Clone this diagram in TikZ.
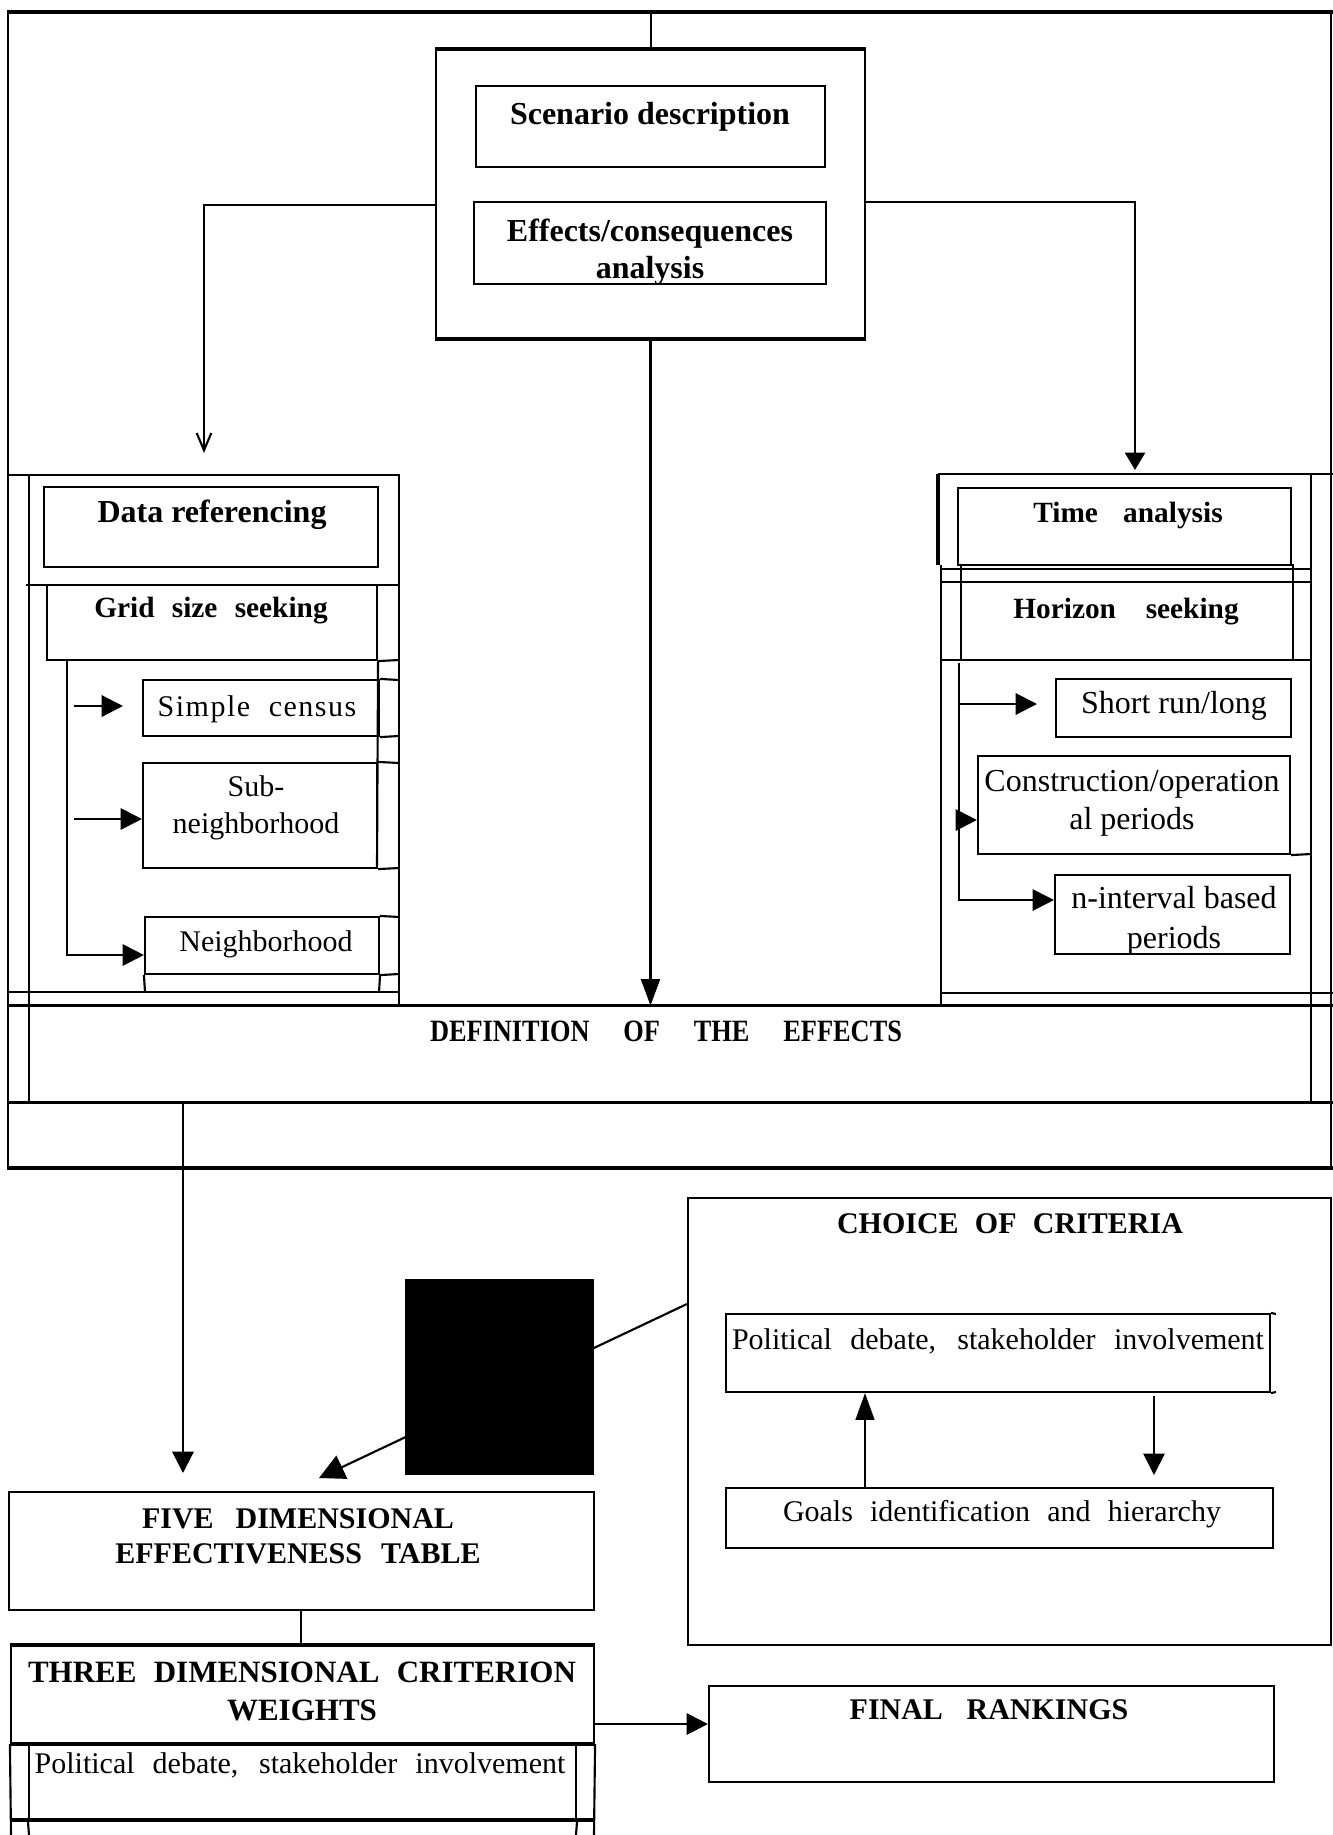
\documentclass[tikz,border=0pt]{standalone}
\usepackage{fontspec}
\setmainfont{Liberation Serif}
\newfontfamily\condfont{Liberation Serif}[FakeStretch=0.85]
\newfontfamily\spacedfont{Liberation Serif}[LetterSpace=5]
\usetikzlibrary{arrows.meta,fit}

\tikzset{
  lwa/.style={line width=2.3pt},
  lwb/.style={line width=1.6pt},
  lwc/.style={line width=1.1pt},
  boxline/.style={draw, lwb, inner sep=0pt},
  hb/.style={font={\fontsize{24}{27.75}\selectfont\bfseries}, inner sep=0pt, align=center, anchor=base},
  hs/.style={font={\fontsize{22}{25}\selectfont\bfseries}, inner sep=0pt, anchor=base},
  rg/.style={font={\fontsize{22.5}{27.75}\selectfont}, inner sep=0pt, align=center, anchor=base},
  rgl/.style={font={\fontsize{24}{28.5}\selectfont}, inner sep=0pt, align=center, anchor=base},
  caps/.style={font={\fontsize{22.5}{26.25}\selectfont\bfseries}, inner sep=0pt, align=center, anchor=base},
  arr/.style={-{Triangle[length=16pt,width=16pt]}},
  arrs/.style={-{Triangle[length=13pt,width=15pt]}},
}

\begin{document}
\begin{tikzpicture}[x=0.75pt,y=-0.75pt]
\fill[white] (0,0) rectangle (1333,1835);
\useasboundingbox (0,0) rectangle (1333,1835);

% ---------- outer frame of the upper part ----------
\draw[lwa] (7,12) -- (1333,12);
\draw[lwb] (8,12) -- (8,1170);
\draw[lwb] (1331,12) -- (1331,1170);

% ---------- central block ----------
\node[boxline, fit={(436,50) (865,338)}] (central) {};
\draw[lwa] (central.north west) -- (central.north east);
\draw[lwa] (central.south west) -- (central.south east);
\coordinate (topc) at (651,12);
\draw[lwc] (topc) -- (topc |- central.north);

\node[boxline, fit={(476,86) (825,167)}] (scen) {};
\node[hb] (scent) at (650,124) {Scenario description};
\node[boxline, fit={(474,202) (826,284)}] (eff) {};
\node[hb] (efft) at (650,278) {Effects/consequences\\analysis};

% connectors out of the central block
\coordinate (ltip) at (204,453);
\coordinate (rtip) at (1135,470);
\draw[lwb, -{Straight Barb[length=13pt,width=11pt]}] (central.west |- 0,205) -| (ltip);
\draw[lwb, arrs] (central.east |- 0,202) -| (rtip);

% ---------- DEFINITION band ----------
\node[inner sep=0pt, fit={(8,1006) (1333,1102)}] (def) {};
\draw[lwa] (def.north west) -- (def.north east);
\draw[lwa] (def.south west) -- (def.south east);
\node[font={\fontsize{23.25}{27}\selectfont\condfont\bfseries}, inner sep=0pt, anchor=base] (deft) at (666,1041) {\makebox[354pt][s]{DEFINITION OF THE EFFECTS}};
\draw[lwa] (8,1168) -- (1333,1168);
\draw[lwa, -{Triangle[length=20pt,width=14pt]}] (central.south) -- (central.south |- def.north);

% ---------- left panel ----------
\draw[lwb] (8,475) -- (399,475) -- (399,1006);
\draw[lwb] (29,475) -- (29,1102);
\node[boxline, fit={(44,487) (378,567)}] (dataref) {};
\node[hb] (datareft) at (212,522) {Data referencing};
\draw[lwb] (26,585) -- (399,585);
\node[boxline, fit={(47,585) (377,660)}] (grid) {};
\draw[lwb] (grid.south east) -- (399,660);
\draw[lwb] (grid.south east) -- (377,867);
\node[hs] (gridt) at (211,617) {\makebox[175pt][s]{Grid size seeking}};

\node[boxline, fit={(143,680) (379,736)}] (simple) {};
\draw[lwb] (simple.north east) -- (399,680);
\draw[lwb] (simple.south east) -- (399,736);
\node[font={\fontsize{22.5}{27.75}\selectfont\spacedfont}, inner sep=0pt, anchor=base] (simplet) at (257,716) {\makebox[149pt][s]{Simple census}};

\node[boxline, fit={(143,763) (377,868)}] (sub) {};
\draw[lwb] (sub.north east) -- (399,763);
\draw[lwb] (sub.south east) -- (399,868);
\node[rg] (subt) at (256,833) {Sub-\\neighborhood};

\node[boxline, fit={(145,917) (379,974)}] (nbh) {};
\draw[lwb] (nbh.north east) -- (399,917);
\draw[lwb] (nbh.south east) -- (399,974);
\draw[lwb] (nbh.south west) -- (145,992);
\draw[lwb] (nbh.south east) -- (379,992);
\node[rg] (nbht) at (266,951) {Neighborhood};
\draw[lwb] (8,992) -- (399,992);

\coordinate (gb) at (67,660);
\coordinate (sa) at (74,706);
\coordinate (sb) at (123,706);
\coordinate (sc) at (74,819);
\draw[lwb, arr] (gb) |- (nbh.west |- 0,955);
\draw[lwb, arr] (sa) -- (sb);
\draw[lwb, arr] (sc) -- (sub.west |- sc);

% ---------- right panel ----------
\draw[lwb] (938,474) -- (1333,474);
\draw[lwa] (938,474) -- (938,565);
\draw[lwb] (941,565) -- (941,1006);
\draw[lwb] (1311,474) -- (1311,1102);
\node[boxline, fit={(958,488) (1291,565)}] (time) {};
\node[hs] (timet) at (1128,522) {\makebox[142pt][s]{Time analysis}};
\draw[lwb] (941,569) -- (1311,569);
\draw[lwb] (941,582) -- (1311,582);
\node[boxline, fit={(961,565) (1293,660)}] (hor) {};
\draw[lwb] (941,660) -- (1311,660);
\node[hs] (hort) at (1126,618) {\makebox[169pt][s]{Horizon seeking}};

\node[boxline, fit={(1056,679) (1291,737)}] (short) {};
\node[rgl] (shortt) at (1174,713) {Short run/long};
\node[boxline, fit={(978,756) (1290,854)}] (cons) {};
\draw[lwb] (cons.south east) -- (1311,854);
\node[rgl] (const) at (1132,829) {Construction/operation\\al periods};
\node[boxline, fit={(1055,875) (1290,954)}] (nint) {};
\node[font={\fontsize{24}{29.5}\selectfont}, inner sep=0pt, align=center, anchor=base] (nintt) at (1174,948) {n-interval based\\periods};
\draw[lwb] (941,993) -- (1333,993);

\coordinate (hbr) at (959,663);
\coordinate (ra) at (959,704);
\coordinate (rb) at (1037,704);
\coordinate (rc) at (959,820);
\draw[lwb, arr] (hbr) |- (nint.west |- 0,900);
\draw[lwb, arr] (ra) -- (rb);
\draw[lwb, arr] (rc) -- (cons.west |- rc);

% ---------- lower part ----------
\node[boxline, fit={(688,1198) (1331,1645)}] (choice) {};
\node[caps] (choicet) at (1010,1233) {\makebox[259.5pt][s]{CHOICE OF CRITERIA}};
\node[boxline, fit={(726,1314) (1270,1392)}] (pol1) {};
\draw[lwb] (pol1.north east) -- (1276,1314);
\draw[lwb] (pol1.south east) -- (1276,1392);
\node[rg] (pol1t) at (998,1349) {\makebox[399pt][s]{Political debate, stakeholder involvement}};
\node[boxline, fit={(726,1488) (1273,1548)}] (goals) {};
\node[rg] (goalst) at (1002,1521) {\makebox[328.5pt][s]{Goals identification and hierarchy}};
\draw[lwb, -{Triangle[length=20pt,width=14pt]}] (865,0 |- goals.north) -- (865,0 |- pol1.south);
\coordinate (da) at (1154,1396);
\coordinate (db) at (1154,1475);
\draw[lwc, arr] (da) -- (db);

\node[boxline, fit={(9,1492) (594,1610)}] (five) {};
\node[caps] (fivet) at (298,1563) {\makebox[234pt][s]{FIVE DIMENSIONAL}\\\makebox[274pt][s]{EFFECTIVENESS TABLE}};

\coordinate (dtip) at (183,1473);
\draw[lwb, arr] (183,0 |- def.south) -- (dtip);

\coordinate (ctip) at (319,1478);
\draw[lwb, -{Triangle[length=19pt,width=19pt]}] (choice.west |- 0,1304) -- (ctip);
\node[fill=black, inner sep=0pt, fit={(405,1279) (594,1475)}] (blk) {};

\node[boxline, fit={(11,1646) (594,1743)}] (three) {};
\draw[lwa] (three.north west) -- (three.north east);
\draw[lwa] (three.south west) -- (three.south east);
\node[font={\fontsize{23.25}{28.5}\selectfont\bfseries}, inner sep=0pt, align=center, anchor=base] (threet) at (302,1720) {\makebox[411pt][s]{THREE DIMENSIONAL CRITERION}\\WEIGHTS};
\draw[lwc] (301,0 |- five.south) -- (301,0 |- three.north);

\node[boxline, fit={(29,1743) (576,1820)}] (threerow) {};
\draw[lwb] (three.south west) -- (11,1835);
\draw[lwb] (three.south east) -- (594,1835);
\draw[lwb] (threerow.south west) -- (29,1835);
\draw[lwb] (threerow.south east) -- (576,1835);
\draw[lwa] (11,1820) -- (594,1820);
\node[rg] (pol2t) at (300,1773) {\makebox[398pt][s]{Political debate, stakeholder involvement}};

\node[boxline, fit={(709,1686) (1274,1782)}] (final) {};
\node[caps] (finalt) at (989,1719) {\makebox[209pt][s]{FINAL RANKINGS}};
\draw[lwb, arr] (three.east |- 0,1724) -- (final.west |- 0,1724);

\end{tikzpicture}
\end{document}
